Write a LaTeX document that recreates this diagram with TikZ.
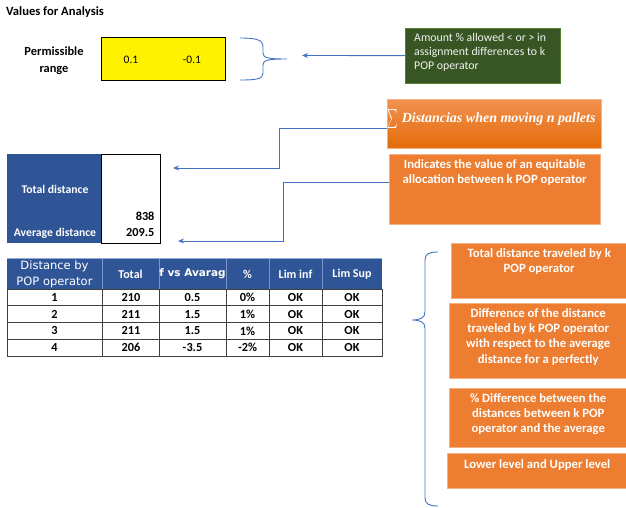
\documentclass[tikz,border=0pt]{standalone}
\usepackage{fontspec}
\setmainfont{Carlito}
\newfontfamily\tahomafont{DejaVu Sans}
\newfontfamily\cambriafont{Liberation Serif}
\usepackage{tikz}
\usetikzlibrary{positioning, arrows.meta}

\definecolor{sheetblue}{HTML}{2F5597}
\definecolor{gridblue}{HTML}{8EA9DB}
\definecolor{linkblue}{HTML}{4472C4}
\definecolor{notegreen}{HTML}{375623}
\definecolor{noteedge}{HTML}{548235}
\definecolor{calloutorange}{HTML}{ED7D31}
\definecolor{orangeedge}{HTML}{F4B183}
\definecolor{orangelight}{HTML}{F2914F}
\definecolor{orangedark}{HTML}{E46C0A}

\tikzset{
  link/.style={draw=linkblue, line width=0.9pt, -{Stealth[length=6pt, width=5pt]}},
  brace/.style={draw=linkblue, line width=0.9pt},
  callout/.style={draw=orangeedge, fill=calloutorange, anchor=north west, inner sep=0pt},
  callouttext/.style={text=white, font=\bfseries\fontsize{12.7}{15.3}\selectfont, align=center, inner sep=0pt},
  headcell/.style={text=white, font=\bfseries\fontsize{12}{13}\selectfont},
  datacell/.style={font=\bfseries\fontsize{12.3}{13}\selectfont},
}

\begin{document}
\begin{tikzpicture}[x=1pt, y=-1pt]
\useasboundingbox (0,0) rectangle (626,508);

% values for analysis
\node[anchor=west, inner sep=0pt, font=\bfseries\fontsize{12.6}{14}\selectfont] (title) at (6,12) {Values for Analysis};
\node[align=center, font=\bfseries\fontsize{12.4}{17}\selectfont] (rangelabel) at (54,60.5) {Permissible\\range};
\node[draw, line width=1pt, fill=yellow, minimum width=124pt, minimum height=43pt, anchor=north west] (range) at (101,37) {};
\node[font=\fontsize{11.5}{13}\selectfont] (low) at (131,60) {0.1};
\node[font=\fontsize{11.5}{13}\selectfont] (high) at (192,60) {-0.1};

% brace and note
\draw[brace] (240,38) .. controls (257,38) and (263,40) .. (263,47) -- (263,53)
  .. controls (263,58) and (268,59) .. (287,59) .. controls (268,59) and (263,60) .. (263,65)
  -- (263,73) .. controls (263,79) and (257,80) .. (240,80);
\node[draw=noteedge, fill=notegreen, minimum width=155pt, minimum height=55pt, anchor=north west] (note) at (405,28) {};
\node[anchor=north west, align=left, text=white!90!gray, inner sep=0pt, font=\fontsize{11.8}{14}\selectfont] (notetext) at (414,33)
  {Amount \% allowed < or > in\\assignment differences to k\\POP operator};
\coordinate (rangein) at (302,55.5);
\draw[link] (note) -- (rangein);

% orange callouts top
\node[draw=orangeedge, top color=orangelight, bottom color=orangedark, minimum width=214pt, minimum height=49pt, anchor=north west] (sumbox) at (387,99) {};
\node[anchor=base west, text=white, inner sep=0pt] (sumtext) at (387,122.5)
  {\raisebox{-1.5pt}{\scalebox{1}[1.9]{\fontsize{11}{12}\selectfont$\sum$}}\hspace{4pt}{\cambriafont\bfseries\itshape\fontsize{14}{15}\selectfont Distancias when moving n pallets}};
\node[callout, minimum width=211pt, minimum height=70pt] (equalbox) at (389,154) {};
\node[callouttext, below=5pt of equalbox.north] (equaltext) {Indicates the value of an equitable\\allocation between k POP operator};

% totals
\node[fill=sheetblue, minimum width=94pt, minimum height=89pt, anchor=north west, inner sep=0pt] (totals) at (7,154) {};
\node[draw, line width=1.2pt, minimum width=59pt, minimum height=89pt, anchor=north west] (values) at (101,154) {};
\node[headcell, font=\bfseries\fontsize{11.7}{13}\selectfont] (totallabel) at (55,189) {Total distance};
\node[headcell, font=\bfseries\fontsize{11.7}{13}\selectfont] (avglabel) at (55,233) {Average distance};
\node[datacell, anchor=east] (totalval) at (158,216) {838};
\node[datacell, anchor=east] (avgval) at (158,233) {209.5};

\coordinate (totalin) at (173,168);
\coordinate (avgin) at (178,241);
\draw[link] ([yshift=-4.5pt]sumbox.west) -| ([xshift=106pt]totalin) -- (totalin);
\draw[link] ([yshift=7pt]equalbox.west) -| ([xshift=105pt]avgin) -- (avgin);

% table
\fill[sheetblue] (7,259) rectangle (382,289);
\draw[gridblue] (7,258.5) -- (382,258.5);
\foreach \x in {102,159,226,269,322}
  \draw[gridblue!80!sheetblue] (\x,259) -- (\x,289);
\node[text=white, align=center, font=\tahomafont\fontsize{11.5}{16}\selectfont] (hop) at (54.5,274) {Distance by\\POP operator};
\node[headcell] (htot) at (130.5,274) {Total};
\node[text=white, font=\tahomafont\bfseries\fontsize{10.5}{12}\selectfont] (hdif) at (192.5,274) {f vs Avarag};
\node[headcell] (hpct) at (247.5,274) {\%};
\node[headcell] (hinf) at (295.5,274) {Lim inf};
\node[headcell] (hsup) at (352,274) {Lim Sup};

\draw[black!75, line width=0.8pt] (7,289) rectangle (382,356);
\foreach \y in {305.75,322.5,339.25}
  \draw[black!75, line width=0.8pt] (7,\y) -- (382,\y);
\foreach \x in {102,159,226,269,322}
  \draw[black!75, line width=0.8pt] (\x,289) -- (\x,356);
\foreach \op/\tot/\dif/\pct [count=\i] in {1/210/0.5/0\%, 2/211/1.5/1\%, 3/211/1.5/1\%, 4/206/-3.5/-2\%}{
  \pgfmathsetmacro\yc{289+16.75*(\i-0.5)}
  \node[datacell] (op\i) at (54.5,\yc) {\op};
  \node[datacell] (tot\i) at (131,\yc) {\tot};
  \node[datacell] (dif\i) at (192.5,\yc) {\dif};
  \node[datacell] (pct\i) at (247.5,\yc) {\pct};
  \node[datacell] (inf\i) at (295.5,\yc) {OK};
  \node[datacell] (sup\i) at (352,\yc) {OK};
}

% right callouts
\node[callout, minimum width=176pt, minimum height=55pt] (travbox) at (451,243) {};
\node[callouttext, below=5pt of travbox.north] (travtext) {Total distance traveled by k\\POP operator};
\node[callout, minimum width=178pt, minimum height=75pt] (diffbox) at (449,303) {};
\node[callouttext, below=5pt of diffbox.north] (difftext) {Difference of the distance\\traveled by k POP operator\\with respect to the average\\distance for a perfectly};
\node[callout, minimum width=178pt, minimum height=59pt] (pctbox) at (449,388) {};
\node[callouttext, below=5pt of pctbox.north] (pcttext) {\% Difference between the\\distances between k POP\\operator and the average};
\node[callout, minimum width=180pt, minimum height=35pt] (limbox) at (447,453) {};
\node[callouttext, below=6pt of limbox.north] (limtext) {Lower level and Upper level};

\draw[brace] (438,252) .. controls (429,252) and (425,254) .. (425,260) -- (425,312)
  .. controls (425,318) and (420,320) .. (412,320) .. controls (420,320) and (425,322) .. (425,328)
  -- (425,498) .. controls (425,504) and (429,506) .. (438,506);
\end{tikzpicture}
\end{document}
